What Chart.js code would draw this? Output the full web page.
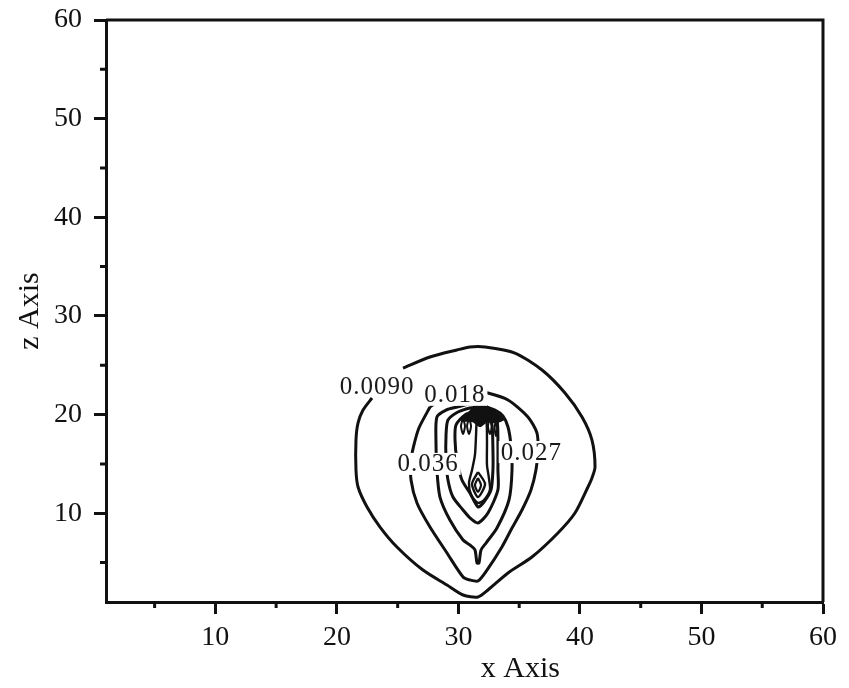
<!DOCTYPE html>
<html>
<head>
<meta charset="utf-8">
<title>Contour plot</title>
<script src="https://cdn.jsdelivr.net/npm/chart.js@4.4.0/dist/chart.umd.min.js"></script>
<style>
    body { margin: 0; background: #fff; }
    #wrap { width: 849px; height: 688px; }
</style>
</head>
<body>
<div id="wrap"><canvas id="contourChart" width="849" height="688"></canvas></div>
<script>
// Axis ticks
const majorTicks = [10, 20, 30, 40, 50, 60];
const minorTicks = [5, 15, 25, 35, 45, 55];

// Contour level labels and where they sit (x, z)
const levelLabels = ['0.0090', '0.018', '0.027', '0.036'];
const labelX = [23.3, 29.7, 36.0, 27.5];
const labelZ = [22.9, 22.0, 16.2, 15.0];

// Contour lines as [x, z] pairs
const contour0090 = [
    [25.44, 24.72], [27.66, 25.84], [29.88, 26.55], [30.95, 26.85], [32.19, 26.85],
    [34.65, 26.24], [36.88, 24.52], [38.77, 22.19], [40.17, 19.76], [40.99, 17.42],
    [41.24, 14.69], [40.99, 13.57], [40.66, 12.66], [39.59, 10.02], [38.19, 8.0],
    [36.05, 5.56], [34.08, 3.94], [32.43, 2.22], [31.61, 1.51], [30.38, 1.71],
    [29.06, 2.72], [27.08, 4.24], [24.94, 6.58], [23.55, 8.6], [22.48, 10.63],
    [21.74, 12.66], [21.57, 14.38], [21.57, 17.42], [21.74, 19.15], [22.15, 20.46],
    [22.89, 21.68]
];
const contour018 = [
    [27.66, 20.77], [28.9, 21.78], [30.13, 22.28], [31.36, 22.38], [32.43, 22.19],
    [34.08, 21.48], [35.72, 19.76], [36.46, 18.14], [36.55, 16.41], [36.38, 14.38],
    [35.97, 12.36], [35.23, 10.33], [34.41, 8.5], [33.58, 6.58], [32.35, 4.24],
    [31.61, 3.13], [30.95, 3.23], [30.38, 3.54], [29.06, 5.97], [27.66, 8.6],
    [26.59, 11.04], [26.1, 13.37], [26.1, 15.4], [26.34, 16.92], [26.75, 18.64],
    [27.66, 20.77]
];
const contour027 = [
    [31.61, 21.07], [33.01, 20.46], [33.66, 19.86], [34.08, 18.74], [34.32, 16.92],
    [34.41, 14.38], [34.16, 11.34], [33.17, 8.5], [32.27, 6.98], [31.86, 6.28],
    [31.69, 4.95], [31.53, 4.95], [31.36, 6.28], [30.95, 6.78], [30.38, 7.29],
    [29.3, 9.31], [28.48, 11.64], [28.23, 14.38], [28.15, 17.42], [28.23, 19.76],
    [28.98, 20.46], [29.88, 20.77], [30.95, 21.07], [31.61, 21.07]
];
const contour036 = [
    [31.61, 20.77], [32.59, 20.26], [33.17, 19.45], [33.25, 16.92], [33.25, 14.38],
    [33.25, 12.36], [32.43, 10.02], [31.61, 9.01], [30.95, 9.52], [30.38, 10.33],
    [29.55, 11.64], [29.14, 13.37], [28.98, 15.4], [28.98, 17.93], [29.14, 19.45],
    [29.96, 20.26], [30.95, 20.67], [31.61, 20.77]
];
const contour045 = [
    [31.61, 20.46], [32.43, 19.96], [32.76, 18.95], [32.84, 16.41], [32.84, 14.38],
    [32.68, 12.36], [32.1, 11.14], [31.61, 10.63], [30.95, 12.05], [30.29, 13.37],
    [29.88, 15.4], [29.72, 17.42], [29.8, 18.95], [30.54, 19.96], [31.61, 20.46]
];
const contour054 = [
    [31.78, 20.26], [32.27, 19.66], [32.35, 17.42], [32.35, 14.89], [32.51, 13.57],
    [32.59, 12.36], [32.1, 11.34], [31.61, 11.04], [31.04, 11.85], [30.87, 13.07],
    [31.12, 14.38], [31.36, 15.91], [31.45, 17.93], [31.53, 19.66], [31.78, 20.26]
];
const contour063 = [[31.61, 14.18], [32.19, 12.97], [31.61, 11.64], [31.12, 12.97], [31.61, 14.18]];
const contour072 = [[31.61, 13.57], [31.86, 12.86], [31.61, 12.15], [31.36, 12.86], [31.61, 13.57]];

// Small loops just below the peak
const loopA = [[30.38, 19.66], [30.54, 18.84], [30.38, 18.03], [30.21, 18.84], [30.38, 19.66]];
const loopB = [[30.87, 19.66], [31.04, 18.84], [30.87, 18.03], [30.71, 18.84], [30.87, 19.66]];
const loopC = [[32.59, 19.66], [32.76, 18.84], [32.59, 18.03], [32.43, 18.84], [32.59, 19.66]];
const loopD = [[33.09, 19.45], [33.2, 18.64], [33.09, 17.83], [32.98, 18.64], [33.09, 19.45]];

// Dense peak where the lines pile up
const peak = [
    [31.78, 21.27], [32.27, 20.87], [32.93, 20.26], [33.75, 19.56], [33.01, 19.25],
    [32.35, 19.35], [31.78, 18.85], [31.2, 19.35], [30.3, 19.45], [30.95, 20.26],
    [31.45, 20.97], [31.78, 21.27]
];

const xTitleAt = 35.1; // x Axis title sits right of centre

const lineColor = '#111';
Chart.defaults.font.family = "'Liberation Serif', 'Times New Roman', serif";
Chart.defaults.color = '#111';

function toPoints(pairs) {
    return pairs.map(p => ({ x: p[0], y: p[1] }));
}

function contourDataset(pairs, width) {
    return {
        data: toPoints(pairs),
        showLine: true,
        pointRadius: 0,
        borderColor: lineColor,
        borderWidth: width || 3,
        tension: 0.25,
        fill: false
    };
}

const datasets = [
    contourDataset(contour0090),
    contourDataset(contour018),
    contourDataset(contour027),
    contourDataset(contour036),
    contourDataset(contour045),
    contourDataset(contour054, 2.4),
    contourDataset(contour063, 2.4),
    contourDataset(contour072, 2.2),
    contourDataset(loopA, 2),
    contourDataset(loopB, 2),
    contourDataset(loopC, 2),
    contourDataset(loopD, 2),
    {
        data: toPoints(peak),
        showLine: true,
        pointRadius: 0,
        borderColor: lineColor,
        borderWidth: 2.5,
        backgroundColor: lineColor,
        tension: 0.2,
        fill: 'shape'
    }
];

// Level labels with a white box that breaks the lines under them
const levelLabelPlugin = {
    id: 'levelLabels',
    afterDatasetsDraw(chart) {
        const ctx = chart.ctx;
        const xs = chart.scales.x;
        const ys = chart.scales.y;
        ctx.save();
        ctx.font = "25px 'Liberation Serif', serif";
        if ('letterSpacing' in ctx) ctx.letterSpacing = '1px';
        ctx.textAlign = 'center';
        ctx.textBaseline = 'middle';
        levelLabels.forEach((text, i) => {
            const px = xs.getPixelForValue(labelX[i]);
            const py = ys.getPixelForValue(labelZ[i]);
            const w = ctx.measureText(text).width;
            ctx.fillStyle = '#fff';
            ctx.fillRect(px - w / 2 - 2, py - 11, w + 4, 22);
            ctx.fillStyle = '#1a1a1a';
            ctx.fillText(text, px, py + 1);
        });
        ctx.restore();
    }
};

// Frame on top/right, minor ticks and the x title
const framePlugin = {
    id: 'frame',
    afterDraw(chart) {
        const ctx = chart.ctx;
        const area = chart.chartArea;
        const xs = chart.scales.x;
        const ys = chart.scales.y;
        ctx.save();
        ctx.strokeStyle = lineColor;
        ctx.lineWidth = 3;
        ctx.beginPath();
        ctx.moveTo(area.left, area.top);
        ctx.lineTo(area.right, area.top);
        ctx.lineTo(area.right, area.bottom);
        ctx.stroke();

        ctx.beginPath();
        minorTicks.forEach(v => {
            const px = xs.getPixelForValue(v);
            ctx.moveTo(px, area.bottom);
            ctx.lineTo(px, area.bottom + 6);
            const py = ys.getPixelForValue(v);
            ctx.moveTo(area.left, py);
            ctx.lineTo(area.left - 6, py);
        });
        ctx.stroke();

        ctx.fillStyle = '#111';
        ctx.font = "30px 'Liberation Serif', serif";
        ctx.textAlign = 'center';
        ctx.textBaseline = 'alphabetic';
        ctx.fillText('x Axis', xs.getPixelForValue(xTitleAt), area.bottom + 75);
        ctx.restore();
    }
};

const tickFont = { size: 28 };

new Chart(document.getElementById('contourChart'), {
    type: 'scatter',
    data: { datasets: datasets },
    options: {
        responsive: false,
        animation: false,
        devicePixelRatio: 1,
        layout: { padding: { top: 20, right: 26, left: 0, bottom: 0 } },
        plugins: {
            legend: { display: false },
            tooltip: { enabled: false }
        },
        scales: {
            x: {
                type: 'linear',
                min: 1,
                max: 60,
                afterFit: scale => {
                    scale.height = 86;
                    scale.paddingLeft = 0;
                    scale.paddingRight = 0;
                },
                afterBuildTicks: scale => { scale.ticks = majorTicks.map(v => ({ value: v })); },
                ticks: { font: tickFont, color: '#111', padding: 7, maxRotation: 0 },
                grid: { drawOnChartArea: false, tickLength: 12, tickWidth: 3, tickColor: lineColor },
                border: { display: true, color: lineColor, width: 3 },
                title: { display: false }
            },
            y: {
                type: 'linear',
                min: 1,
                max: 60,
                afterFit: scale => {
                    scale.width = 106;
                    scale.paddingTop = 0;
                    scale.paddingBottom = 0;
                },
                afterBuildTicks: scale => { scale.ticks = majorTicks.map(v => ({ value: v })); },
                ticks: { font: tickFont, color: '#111', padding: 12 },
                grid: { drawOnChartArea: false, tickLength: 12, tickWidth: 3, tickColor: lineColor },
                border: { display: true, color: lineColor, width: 3 },
                title: {
                    display: true,
                    text: 'z Axis',
                    font: { size: 30 },
                    color: '#111',
                    padding: { top: 12, bottom: 0 }
                }
            }
        }
    },
    plugins: [levelLabelPlugin, framePlugin]
});
</script>
</body>
</html>
